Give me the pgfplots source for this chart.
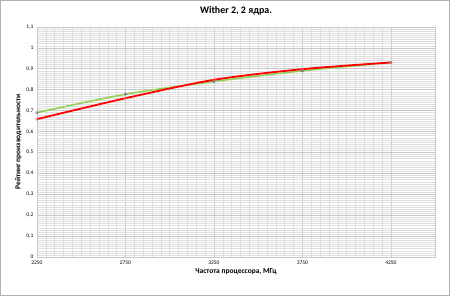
\documentclass[border=0pt]{standalone}
\usepackage{pgfplots}
\pgfplotsset{compat=1.18}
\usepackage{fontspec}
\setmainfont{Carlito}
\definecolor{exgreen}{RGB}{146,208,80}
\definecolor{exred}{RGB}{255,0,0}
\definecolor{gridc}{RGB}{200,200,200}
\definecolor{gridmin}{RGB}{222,222,222}
\begin{document}
\begin{tikzpicture}
\draw[gray!60, line width=0.8bp, fill=white] (0.5bp,0.5bp) rectangle (449.5bp,295.5bp);
\begin{axis}[
  at={(37bp,39bp)}, anchor=south west,
  scale only axis, width=398bp, height=230bp,
  xmin=2250, xmax=4500, ymin=0, ymax=1.1,
  xtick={2250,2750,3250,3750,4250},
  ytick={0,0.1,...,1.1},
  minor x tick num=9, minor y tick num=9,
  grid=both,
  major grid style={gridc, line width=0.6bp},
  minor grid style={gridmin, line width=0.4bp},
  axis line style={gridc},
  tick style={draw=none},
  /pgf/number format/assume math mode=true,
  /pgf/number format/use comma,
  xticklabel style={font=\fontsize{5.5}{6.5}\selectfont, /pgf/number format/1000 sep={}},
  yticklabel style={font=\fontsize{5.5}{6.5}\selectfont, /pgf/number format/fixed},
  scaled x ticks=false,
  xlabel={\textbf{Частота процессора, МГц}},
  ylabel={\textbf{Рейтинг производительности}},
  xlabel style={font=\fontsize{7.5}{8.5}\selectfont, yshift=2bp},
  ylabel style={font=\fontsize{7.5}{8.5}\selectfont, yshift=-2bp},
  title={\textbf{Wither 2, 2 ядра.}},
  title style={font=\fontsize{10}{12}\selectfont, yshift=2bp},
]
\addplot[exgreen, line width=1.5bp, smooth, mark=o, mark size=1.2bp, mark options={draw=gray!70!blue, line width=0.5bp}] coordinates {
(2250,0.690) (2750,0.778) (3250,0.839) (3750,0.890) (4250,0.930)};
\addplot[exred, line width=1.8bp, smooth, mark=o, mark size=1.2bp, mark options={draw=red!60, line width=0.5bp}] coordinates {
(2250,0.659) (2750,0.759) (3250,0.847) (3750,0.898) (4250,0.930)};
\end{axis}
\end{tikzpicture}
\end{document}
